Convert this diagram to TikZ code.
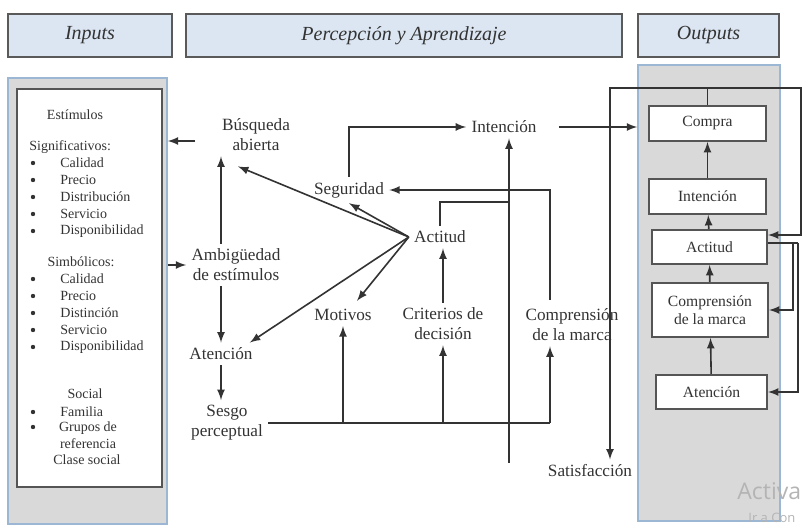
\documentclass[tikz,border=0pt]{standalone}
\usepackage{fontspec}
\setmainfont{Liberation Serif}
\newfontfamily\wmfont{Open Sans}
\usetikzlibrary{calc}
\usetikzlibrary{shapes,arrows}

\definecolor{hdrfill}{HTML}{DCE6F2}
\definecolor{hdrline}{HTML}{5A5A5A}
\definecolor{panfill}{HTML}{D9D9D9}
\definecolor{panline}{HTML}{9BB7D4}
\definecolor{boxline}{HTML}{555555}
\definecolor{linecol}{HTML}{333333}
\definecolor{txt}{HTML}{333333}
\definecolor{wmcol}{HTML}{B4B4B4}

\tikzset{
  hdr/.style={draw=hdrline, line width=1.1pt, fill=hdrfill, minimum height=21.5pt,
    font=\fontsize{10}{12}\selectfont\itshape, text=txt},
  panel/.style={draw=panline, line width=0.8pt, fill=panfill, inner sep=0pt},
  obox/.style={draw=boxline, line width=1pt, fill=white, align=center,
    font=\fontsize{7.8}{9}\selectfont, text=txt, inner sep=0pt},
  lbl/.style={align=center, font=\fontsize{8.6}{10}\selectfont, text=txt, inner sep=2.5pt},
  inp/.style={font=\fontsize{7}{8.5}\selectfont, text=txt, inner sep=0pt, align=center},
  bul/.style={circle, fill=txt, inner sep=0pt, minimum size=2.2pt},
  arr/.style={draw=linecol, line width=0.8pt, -latex},
  ln/.style={draw=linecol, line width=0.8pt},
}

\begin{document}
\begin{tikzpicture}[x=0.5pt, y=-0.5pt]
  \useasboundingbox (0,0) rectangle (803,528);

  % headers
  \node[hdr, minimum width=82pt] (hInputs) at (90,35.5) {Inputs};
  \node[hdr, minimum width=218pt] (hPercep) at (404,35.5) {Percepción y Aprendizaje};
  \node[hdr, minimum width=70.5pt] (hOutputs) at (708.5,35.5) {Outputs};

  % inputs panel
  \node[panel, minimum width=79.5pt, minimum height=223pt] (inOuter) at (87.5,301) {};
  \node[obox, minimum width=72.5pt, minimum height=199pt] (inInner) at (89.5,288) {};

  \node[inp] (estim) at (75,115) {Estímulos};
  \node[inp, anchor=west] (signif) at (29,147) {Significativos:};
  \foreach \t [count=\i] in {Calidad,Precio,Distribución,Servicio,Disponibilidad} {
    \node[bul] (sigB\i) at (33,163+17*\i-17) {};
    \node[inp, anchor=west] (sigT\i) at (60,163+17*\i-17) {\t};
  }
  \node[inp] (simbol) at (81,262) {Simbólicos:};
  \foreach \t [count=\i] in {Calidad,Precio,Distinción,Servicio,Disponibilidad} {
    \node[bul] (simB\i) at (33,279+17*\i-17) {};
    \node[inp, anchor=west] (simT\i) at (60,279+17*\i-17) {\t};
  }
  \node[inp] (social) at (85,394) {Social};
  \node[bul] (socB1) at (33,412) {};
  \node[inp, anchor=west] (familia) at (60,412) {Familia};
  \node[bul] (socB2) at (33,427) {};
  \node[inp] (grupos) at (88,435) {Grupos de\\referencia};
  \node[inp] (clase) at (87,460) {Clase social};

  % outputs panel
  \node[panel, minimum width=71pt, minimum height=228pt] (outPanel) at (709,293) {};
  \node[obox, minimum width=58.5pt, minimum height=17.5pt] (oCompra) at (707.5,123.5) {Compra};
  \node[obox, minimum width=58.5pt, minimum height=17.5pt] (oInten) at (707.5,196.5) {Intención};
  \node[obox, minimum width=57.5pt, minimum height=17pt] (oActit) at (709.5,247) {Actitud};
  \node[obox, minimum width=58pt, minimum height=27pt] (oCompr) at (710,310) {Comprensión\\de la marca};
  \node[obox, minimum width=55.5pt, minimum height=17pt] (oAten) at (711.5,392) {Atención};

  % middle labels
  \node[lbl] (busq) at (256,135) {Búsqueda\\abierta};
  \node[lbl] (segu) at (349,190) {Seguridad};
  \node[lbl] (inten) at (504,127) {Intención};
  \node[lbl] (actit) at (440,237) {Actitud};
  \node[lbl] (ambig) at (236,265) {Ambigüedad\\de estímulos};
  \node[lbl] (motiv) at (343,315) {Motivos};
  \node[lbl] (crit) at (443,324) {Criterios de\\decisión};
  \node[lbl] (compr) at (572,325) {Comprensión\\de la marca};
  \node[lbl] (atenc) at (221,354) {Atención};
  \node[lbl] (sesgo) at (227,423) {Sesgo\\perceptual};
  \node[lbl] (satis) at (590,471) {Satisfacción};

  \coordinate (bIn) at (195,141);
  \coordinate (cUp) at (550,300);
  \coordinate (aJ) at (509,202);
  \coordinate (vLow) at (509,463);
  \coordinate (sR) at (550,423);
  \coordinate (topL) at (610,88);
  \coordinate (topR) at (801,88);
  \coordinate (midR) at (793,243);
  \coordinate (lowR) at (798,243);

  % left side
  \draw[arr] (bIn) -- (bIn -| inOuter.east);
  \draw[arr] (inOuter.east |- ambig.west) -- (ambig.west);
  \draw[arr] (ambig.north -| atenc) -- (atenc |- busq.south);
  \draw[arr] (ambig.south -| atenc) -- (atenc.north);
  \draw[arr] (atenc.south) -- (atenc.south |- sesgo.north);

  % actitud fan
  \draw[arr] (actit.west) -- ($(busq.south)+(-18,10)$);
  \draw[arr] (actit.west) -- (segu.south);
  \draw[arr] (actit.west) -- ($(motiv.north)+(14,-3)$);
  \draw[arr] (actit.west) -- ($(atenc.north east)+(-8,0)$);

  % sesgo line
  \draw[ln] (sesgo.east) -- (sR);
  \draw[arr] (sesgo.east -| motiv) -- (motiv.south);
  \draw[arr] (sesgo.east -| crit) -- (crit.south);
  \draw[arr] (sR) -- (sR |- compr.south);
  \draw[arr] (crit.north) -- (crit.north |- actit.south);

  % loops
  \draw[arr] (segu.north) |- (inten.west);
  \draw[arr] (cUp) |- (segu.east);
  \draw[ln] (actit.north) |- (aJ);
  \draw[arr] (vLow) -- (vLow |- inten.south);
  \draw[arr] ($(inten.east)+(17,0)$) -- (inten.east -| outPanel.west);
  \draw[arr] (oCompra.north) |- (topL) -- (topL |- satis.north);

  % outputs
  \draw[arr] (oAten) -- (oCompr);
  \draw[arr] (oCompr) -- (oActit);
  \draw[arr] (oActit) -- (oInten);
  \draw[arr] (oInten) -- (oCompra);
  \draw[arr] (oCompra.north) |- (topR) |- ($(oActit.east)+(0,-12)$);
  \draw[ln] ($(oActit.east)+(0,-4)$) -- (lowR);
  \draw[arr] (midR) |- (oCompr.east);
  \draw[arr] (lowR) |- (oAten.east);

  % watermark
  \node[anchor=base west, text=wmcol, font=\wmfont\fontsize{11.5}{13}\selectfont, inner sep=0pt] (wm1) at (737,500) {Activa};
  \node[anchor=base west, text=wmcol, font=\wmfont\fontsize{6.5}{8}\selectfont, inner sep=0pt] (wm2) at (748,523) {Ir a Con};
\end{tikzpicture}
\end{document}
